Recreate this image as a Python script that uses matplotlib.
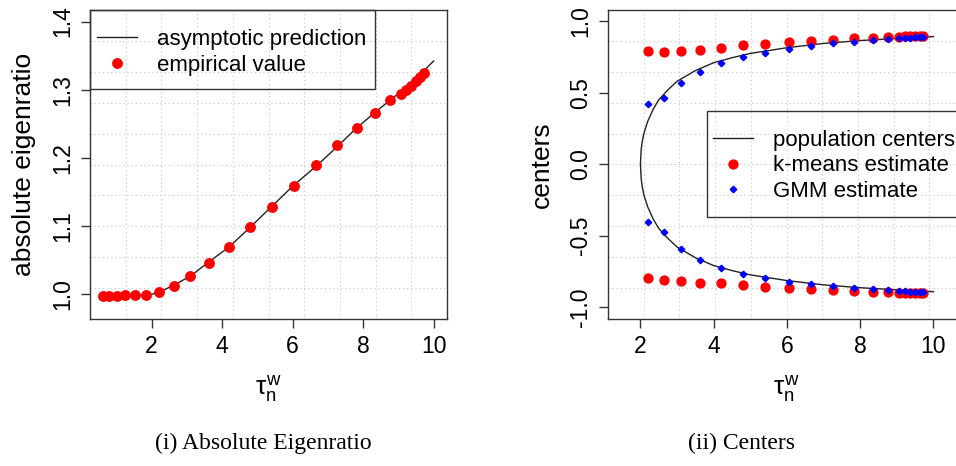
import numpy as np
import matplotlib.pyplot as plt
from matplotlib.patches import Rectangle

plt.rcParams['font.family'] = ['Liberation Sans', 'DejaVu Sans']
plt.rcParams['mathtext.fontset'] = 'custom'
plt.rcParams['mathtext.rm'] = 'Liberation Sans'
plt.rcParams['mathtext.it'] = 'Liberation Sans'

# tau_n^w values of the experiments
tau = [0.61, 0.80, 1.01, 1.25, 1.53, 1.84, 2.22, 2.63, 3.10, 3.63, 4.19, 4.79, 5.41,
       6.05, 6.66, 7.27, 7.83, 8.34, 8.76, 9.07, 9.21, 9.36, 9.50, 9.62, 9.72]

# (i) absolute eigenratio
eig_emp = [0.997, 0.997, 0.997, 0.998, 0.998, 0.998, 1.002, 1.012, 1.026, 1.046, 1.069,
           1.098, 1.128, 1.158, 1.189, 1.218, 1.243, 1.265, 1.285, 1.293, 1.300, 1.306,
           1.313, 1.319, 1.324]
eig_line_x = [0.61, 1.9, 2.2, 2.6, 3.1, 3.6, 4.2, 4.8, 5.4, 6.0, 6.7, 7.3, 7.8, 8.3,
              8.8, 9.3, 10.0]
eig_line_y = [0.997, 0.998, 1.002, 1.012, 1.026, 1.046, 1.069, 1.098, 1.128, 1.158,
              1.189, 1.218, 1.243, 1.265, 1.286, 1.306, 1.342]

# (ii) centers (experiments with tau > 2)
tau_c = tau[6:]
km_upper = [0.793, 0.788, 0.795, 0.802, 0.816, 0.832, 0.841, 0.853, 0.862, 0.872, 0.881,
            0.886, 0.890, 0.893, 0.894, 0.895, 0.896, 0.896, 0.897]
km_lower = [-0.797, -0.809, -0.820, -0.830, -0.834, -0.844, -0.858, -0.867, -0.876,
            -0.881, -0.888, -0.893, -0.893, -0.900, -0.901, -0.901, -0.902, -0.902, -0.903]
gmm_upper = [0.420, 0.464, 0.566, 0.648, 0.706, 0.748, 0.781, 0.807, 0.828, 0.846, 0.858,
             0.869, 0.876, 0.884, 0.885, 0.886, 0.887, 0.888, 0.889]
gmm_lower = [-0.408, -0.476, -0.592, -0.674, -0.730, -0.772, -0.800, -0.823, -0.839,
             -0.851, -0.865, -0.874, -0.883, -0.890, -0.891, -0.892, -0.893, -0.894, -0.895]
pop_x = [2.0, 2.02, 2.05, 2.1, 2.2, 2.35, 2.5, 2.75, 3.0, 3.5, 4.0, 4.5, 5.0, 6.0, 7.0,
         8.0, 9.0, 10.0]
pop_y = [0.0, 0.10, 0.16, 0.22, 0.30, 0.385, 0.45, 0.52, 0.58, 0.655, 0.71, 0.745,
         0.775, 0.815, 0.845, 0.865, 0.88, 0.893]

W, H = 956, 466
fig = plt.figure(figsize=(W / 100, H / 100), dpi=100)
ax1 = fig.add_axes([90 / W, 1 - 319 / H, 357 / W, 309 / H])
ax2 = fig.add_axes([608 / W, 1 - 319 / H, 357 / W, 309 / H])

edge = '#333333'


def style(ax, xlim, ylim, yticks, ylabel):
    ax.set_xlim(xlim)
    ax.set_ylim(ylim)
    ax.set_xticks([2, 4, 6, 8, 10])
    ax.set_yticks(yticks)
    ax.set_yticklabels([f'{v:.1f}' for v in yticks], rotation=90, va='center')
    # R style grid(10, 10): equal cells over the plot region
    for gx in np.linspace(xlim[0], xlim[1], 11)[1:-1]:
        ax.axvline(gx, color='#cccccc', lw=0.8, ls=(0, (1.2, 2.5)), zorder=0)
    for gy in np.linspace(ylim[0], ylim[1], 11)[1:-1]:
        ax.axhline(gy, color='#cccccc', lw=0.8, ls=(0, (1.2, 2.5)), zorder=0)
    for s in ax.spines.values():
        s.set_color(edge)
        s.set_linewidth(1.0)
    ax.tick_params(direction='out', length=6.5, width=1, color=edge,
                   labelsize=16.5, pad=5)
    ax.set_xlabel(r'$\tau_n^w$', fontsize=19)
    ax.xaxis.set_label_coords(0.5, -0.175)
    ax.set_ylabel(ylabel, fontsize=19)
    ax.yaxis.set_label_coords(-0.152, 0.5)


def legend_box(ax, x0, y0, w, h, anchor):
    ax.add_patch(Rectangle((x0, y0), w, h, transform=ax.transAxes, fill=False,
                           ec=edge, lw=1, clip_on=False, zorder=5))
    ax.legend(loc='upper left', bbox_to_anchor=anchor, borderaxespad=0, borderpad=0,
              fontsize=16, handlelength=1.8, handletextpad=0.9, labelspacing=0.2,
              frameon=False)


style(ax1, (0.25, 10.38), (0.963, 1.417), [1.0, 1.1, 1.2, 1.3, 1.4], 'absolute eigenratio')
style(ax2, (1.115, 10.86), (-1.084, 1.079), [-1.0, -0.5, 0.0, 0.5, 1.0], 'centers')

ax1.plot(eig_line_x, eig_line_y, color='#222222', lw=1, label='asymptotic prediction', zorder=2)
ax1.plot(tau, eig_emp, 'o', color='red', ms=6.8, ls='none', label='empirical value', zorder=3)
legend_box(ax1, 0, 0.743, 0.798, 0.257, (0.0196, 0.938))

px = pop_x[::-1] + pop_x
py = [-v for v in pop_y[::-1]] + pop_y
ax2.plot(px, py, color='#222222', lw=1, label='population centers', zorder=2)
ax2.plot(tau_c + tau_c, km_upper + km_lower, 'o', color='red', ms=6.4, ls='none',
         label='k-means estimate', zorder=3)
ax2.plot(tau_c + tau_c, gmm_upper + gmm_lower, 'D', color='blue', ms=3.3, ls='none',
         label='GMM estimate', zorder=4)
legend_box(ax2, 0.277, 0.330, 0.9, 0.343, (0.294, 0.612))

fig.text(263 / W, 1 - 443 / H, '(i) Absolute Eigenratio', fontsize=17,
         family='Liberation Serif', ha='center', va='center')
fig.text(742 / W, 1 - 443 / H, '(ii) Centers', fontsize=17,
         family='Liberation Serif', ha='center', va='center')

fig.savefig('out.png', dpi=100)
